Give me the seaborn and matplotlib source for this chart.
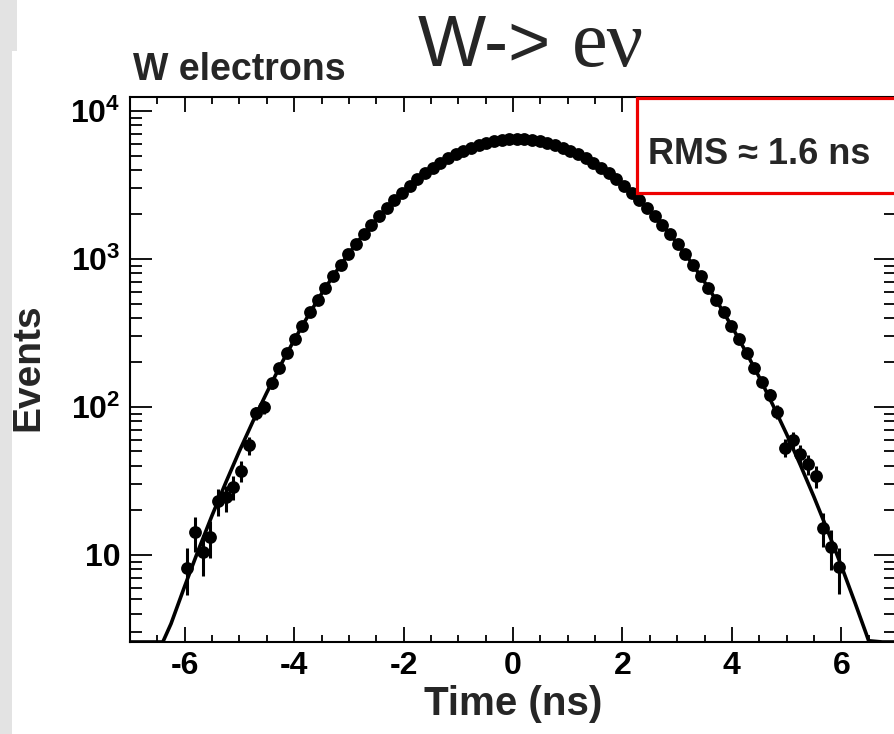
import numpy as np
import pandas as pd
import matplotlib
matplotlib.use("Agg")
import matplotlib.pyplot as plt
import seaborn as sns
from matplotlib.ticker import FixedLocator, FixedFormatter, MultipleLocator, LogLocator, NullFormatter
from matplotlib.patches import Rectangle
from matplotlib.font_manager import FontProperties

# ---- timing histogram of W -> e nu electrons ----
bin_centers = [
    -5.95, -5.81, -5.67, -5.53, -5.39, -5.25, -5.11, -4.97, -4.83, -4.69,
    -4.55, -4.41, -4.27, -4.13, -3.99, -3.85, -3.71, -3.57, -3.43, -3.29,
    -3.15, -3.01, -2.87, -2.73, -2.59, -2.45, -2.31, -2.17, -2.03, -1.89,
    -1.75, -1.61, -1.47, -1.33, -1.19, -1.05, -0.91, -0.77, -0.63, -0.49,
    -0.35, -0.21, -0.07, 0.07, 0.21, 0.35, 0.49, 0.63, 0.77, 0.91,
    1.05, 1.19, 1.33, 1.47, 1.61, 1.75, 1.89, 2.03, 2.17, 2.31,
    2.45, 2.59, 2.73, 2.87, 3.01, 3.15, 3.29, 3.43, 3.57, 3.71,
    3.85, 3.99, 4.13, 4.27, 4.41, 4.55, 4.69, 4.83, 4.97, 5.11,
    5.25, 5.39, 5.53, 5.67, 5.81, 5.95,
]
events = [
    8.2, 14.3, 10.5, 13.2, 23, 24.5, 29, 37, 55, 91,
    100, 145, 184, 231, 288, 355, 435, 530, 638, 766,
    912, 1077, 1262, 1469, 1698, 1946, 2218, 2506, 2807, 3126,
    3451, 3793, 4121, 4457, 4786, 5093, 5383, 5649, 5888, 6081,
    6252, 6368, 6427, 6457, 6427, 6368, 6252, 6081, 5888, 5649,
    5383, 5093, 4786, 4457, 4121, 3793, 3451, 3126, 2807, 2506,
    2218, 1946, 1698, 1469, 1262, 1077, 912, 766, 638, 530,
    435, 355, 288, 231, 184, 148, 121, 93, 53, 60,
    48, 41, 34, 15.2, 11.3, 8.3,
]

# ---- gaussian fit curve ----
fit_time = [
    -7.0, -6.75, -6.5, -6.4, -6.25, -6.0, -5.75, -5.5, -5.25, -5.0,
    -4.75, -4.5, -4.25, -4.0, -3.75, -3.5, -3.25, -3.0, -2.75, -2.5,
    -2.25, -2.0, -1.75, -1.5, -1.25, -1.0, -0.75, -0.5, -0.25, 0.0,
    0.25, 0.5, 0.75, 1.0, 1.25, 1.5, 1.75, 2.0, 2.25, 2.5,
    2.75, 3.0, 3.25, 3.5, 3.75, 4.0, 4.25, 4.5, 4.75, 5.0,
    5.25, 5.5, 5.75, 6.0, 6.25, 6.45, 6.5, 6.75, 7.0,
]
fit_events = [
    0.51, 0.99, 1.87, 2.38, 3.43, 6.15, 10.8, 18.5, 30.8, 50.4,
    80.4, 125, 191, 283, 410, 582, 805, 1089, 1439, 1855,
    2339, 2877, 3451, 4055, 4645, 5200, 5689, 6067, 6339, 6451,
    6412, 6237, 5916, 5483, 4966, 4386, 3793, 3199, 2630, 2118,
    1663, 1276, 957, 700, 501, 350, 238, 159, 103, 65.6,
    40.7, 24.7, 14.6, 8.45, 4.76, 2.97, 2.63, 1.42, 0.74,
]

x_ticks = [-6, -4, -2, 0, 2, 4, 6]
x_tick_labels = ["-6", "-4", "-2", "0", "2", "4", "6"]
y_ticks = [10, 100, 1000, 10000]
y_tick_labels = ["10", "$10^{2}$", "$10^{3}$", "$10^{4}$"]
y_min, y_max = 2.58, 12430

sns.set_theme(style="white")
plt.rcParams["font.family"] = ["Liberation Sans", "DejaVu Sans"]
plt.rcParams["font.weight"] = "bold"
plt.rcParams["mathtext.fontset"] = "custom"
plt.rcParams["mathtext.rm"] = "Liberation Sans:bold"
plt.rcParams["mathtext.bf"] = "Liberation Sans:bold"
plt.rcParams["mathtext.it"] = "Liberation Sans:bold:italic"

W, H = 894, 734
fig = plt.figure(figsize=(W / 100, H / 100), dpi=100)
fig.patch.set_facecolor("white")

# slide margin strip on the left
fig.add_artist(Rectangle((0, 1 - 51 / H), 17 / W, 51 / H, transform=fig.transFigure,
                         facecolor="#e3e3e3", edgecolor="none", zorder=0))
fig.add_artist(Rectangle((0, 0), 12 / W, 1 - 51 / H, transform=fig.transFigure,
                         facecolor="#e3e3e3", edgecolor="none", zorder=0))

ax = fig.add_axes([130 / W, 1 - 642 / H, (896 - 130) / W, (642 - 97) / H])
ax.set_yscale("log")

hist_df = pd.DataFrame({"time": bin_centers, "events": events})
fit_df = pd.DataFrame({"time": fit_time, "events": np.clip(fit_events, y_min, None)})

sns.lineplot(data=fit_df, x="time", y="events", ax=ax, color="black", lw=2.6,
             zorder=2, sort=True)
ax.errorbar(hist_df["time"], hist_df["events"], yerr=np.sqrt(hist_df["events"]),
            fmt="none", ecolor="black", elinewidth=2.2, zorder=3)
sns.scatterplot(data=hist_df, x="time", y="events", ax=ax, color="black", s=85,
                linewidth=0, zorder=4)

ax.set_xlim(-7, 7)
ax.set_ylim(y_min, y_max)
ax.set_xlabel("")
ax.set_ylabel("")

ax.xaxis.set_major_locator(FixedLocator(x_ticks))
ax.xaxis.set_major_formatter(FixedFormatter(x_tick_labels))
ax.xaxis.set_minor_locator(MultipleLocator(0.5))
ax.yaxis.set_major_locator(FixedLocator(y_ticks))
ax.yaxis.set_major_formatter(FixedFormatter(y_tick_labels))
ax.yaxis.set_minor_locator(LogLocator(base=10, subs=range(2, 10), numticks=20))
ax.yaxis.set_minor_formatter(NullFormatter())

ax.tick_params(which="both", direction="in", top=True, right=True, bottom=True,
               left=True, color="black", width=1.3, labelsize=23, labelcolor="black")
ax.tick_params(axis="x", which="major", length=10.8, pad=6.5)
ax.tick_params(axis="x", which="minor", length=5.0)
ax.tick_params(axis="y", which="major", length=16, pad=7)
ax.tick_params(axis="y", which="minor", length=8.5)
for lab in ax.get_xticklabels() + ax.get_yticklabels():
    lab.set_fontweight("bold")
for sp in ax.spines.values():
    sp.set_color("black")
    sp.set_linewidth(1.5)

# RMS box
ax.add_patch(Rectangle(((637 - 130) / 766, (642 - 193) / 545), 0.4, (193 - 98) / 545,
                       transform=ax.transAxes, facecolor="white", edgecolor="#ee0000",
                       lw=2.3, zorder=6, clip_on=False))
fig.text(648 / W, 1 - 164 / H, "RMS \u2248 1.6 ns", fontsize=26, fontweight="bold",
         ha="left", va="baseline", zorder=7)

# axis titles
fig.text(28 / W, 1 - 367 / H, "Events", rotation=90, fontsize=28, fontweight="bold",
         ha="center", va="center")
fig.text(513 / W, 1 - 715 / H, "Time (ns)", fontsize=29, fontweight="bold",
         ha="center", va="baseline")

# headings
fig.text(133 / W, 1 - 80 / H, "W electrons", fontsize=27, fontweight="bold",
         ha="left", va="baseline")
sans_title = FontProperties(family="Liberation Sans", weight="normal", size=52)
serif_title = FontProperties(family="Liberation Serif", weight="normal", size=58)
fig.text(418 / W, 1 - 66 / H, "W->", fontproperties=sans_title,
         ha="left", va="baseline")
fig.text(572 / W, 1 - 66 / H, "e\u03bd", fontproperties=serif_title,
         ha="left", va="baseline")

fig.savefig("out.png", dpi=100, facecolor="white")
